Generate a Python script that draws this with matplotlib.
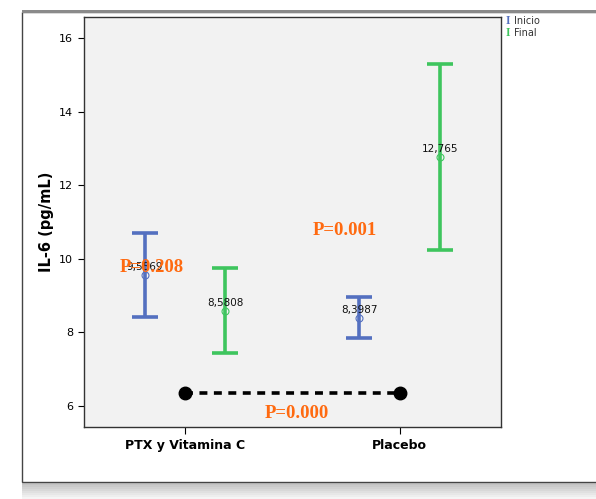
import matplotlib.pyplot as plt
from matplotlib.patches import Rectangle
import numpy as np

# IL-6 means with their interval bounds, per group and time point
groups = ["PTX y Vitamina C", "Placebo"]
inicio_mean = [9.5569, 8.3987]
inicio_low = [8.42, 7.85]
inicio_high = [10.70, 8.96]
final_mean = [8.5808, 12.765]
final_low = [7.44, 10.24]
final_high = [9.75, 15.29]
mean_labels_inicio = ["9,5569", "8,3987"]
mean_labels_final = ["8,5808", "12,765"]

p_texts = ["P=0.208", "P=0.001", "P=0.000"]
p_pos = [(-0.154, 9.76), (0.743, 10.78), (0.519, 5.81)]

blue = "#5470C0"
green = "#3EC55E"
orange = "#FF6A10"

fig = plt.figure(figsize=(5.96, 4.99), dpi=100)

# white frame with a soft shadow at the bottom
fig.patches.append(Rectangle((0.037, 0.034), 1.0, 0.942, transform=fig.transFigure,
                             facecolor="white", edgecolor="#444444", linewidth=1.0,
                             zorder=-10))
fig.patches.append(Rectangle((0.037, 0.974), 1.0, 0.005, transform=fig.transFigure,
                             facecolor="#8a8a8a", edgecolor="none", zorder=-10))
for k in range(8):
    fig.patches.append(Rectangle((0.037, 0.0 + k * 0.004), 1.0, 0.004,
                                 transform=fig.transFigure,
                                 facecolor="#888888", alpha=0.08 + k * 0.06,
                                 edgecolor="none", zorder=-10))

ax = fig.add_axes([0.1404, 0.1443, 0.700, 0.8216])
ax.set_facecolor("#F2F2F2")

x = np.arange(len(groups))
offset = 0.187


def draw_bars(xs, mean, low, high, color, labels):
    for xi, m, lo, hi, lab in zip(xs, mean, low, high, labels):
        ax.errorbar([xi], [m], yerr=[[m - lo], [hi - m]], fmt="none",
                    ecolor=color, elinewidth=2.6, capsize=9.5, capthick=2.6)
        ax.plot(xi, m, "o", markersize=5, markerfacecolor="none",
                markeredgecolor=color, markeredgewidth=0.8)
        ax.text(xi, m + 0.22, lab, ha="center", va="center", fontsize=7.5,
                color="#111111")


draw_bars(x - offset, inicio_mean, inicio_low, inicio_high, blue, mean_labels_inicio)
draw_bars(x + offset, final_mean, final_low, final_high, green, mean_labels_final)

# comparison between groups
ax.plot([x[0], x[1]], [6.35, 6.35], "k--", linewidth=2.6, dashes=(2.2, 1.8))
ax.plot([x[0], x[1]], [6.35, 6.35], "ko", markersize=9)

for txt, (px, py) in zip(p_texts, p_pos):
    ax.text(px, py, txt, ha="center", va="center", fontsize=13.5,
            fontweight="bold", family="Liberation Serif", color=orange)

ax.set_xlim(-0.472, 1.472)
ax.set_ylim(5.43, 16.57)
ax.set_xticks(x)
ax.set_xticklabels(groups, fontsize=9, fontweight="bold")
ax.set_yticks([6, 8, 10, 12, 14, 16])
ax.tick_params(axis="y", labelsize=8, length=4)
ax.tick_params(axis="x", length=5)
ax.set_ylabel("IL-6 (pg/mL)", fontsize=10.5, fontweight="bold", labelpad=4)
for s in ax.spines.values():
    s.set_color("#333333")
    s.set_linewidth(1.0)

# legend
fig.text(0.849, 0.957, "I", color=blue, fontsize=8.5, fontweight="bold",
         family="Liberation Serif", va="center")
fig.text(0.863, 0.957, "Inicio", color="#333333", fontsize=7, va="center")
fig.text(0.849, 0.933, "I", color=green, fontsize=8.5, fontweight="bold",
         family="Liberation Serif", va="center")
fig.text(0.863, 0.933, "Final", color="#333333", fontsize=7, va="center")

plt.savefig("out.png", dpi=100)
plt.close()
